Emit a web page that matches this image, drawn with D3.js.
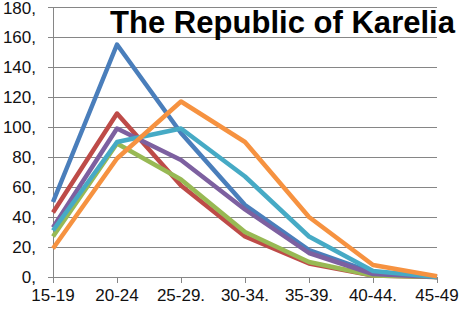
<!DOCTYPE html>
<html><head><meta charset="utf-8">
<script src="https://cdn.jsdelivr.net/npm/d3@7"></script>
<style>body{margin:0;background:#fff}svg{display:block}</style>
</head><body>
<script>
const categories = ["15-19","20-24","25-29.","30-34.","35-39.","40-44.","45-49"];
const yTicks = [0,20,40,60,80,100,120,140,160,180];
const seriesNames = ["s1","s2","s3","s4","s5","s6"];
const blue   = [50,155,96,48,18,3,0];
const red    = [43,109,61,27,9,1,0];
const green  = [27,89,65,30,10,1,0];
const purple = [33,99,78,45,16,2,0];
const teal   = [31,90,99,67,27,4,0];
const orange = [19,79,117,90,40,8,0.5];
const colors = ["#4A7EBB","#BE4B48","#98B954","#7D60A0","#46AAC5","#F69240"];
const seriesValues = [blue, red, green, purple, teal, orange];
const title = "The Republic of Karelia";

const W = 465, H = 311;
const svg = d3.select("body").append("svg").attr("width", W).attr("height", H);
const x = d3.scalePoint().domain(categories).range([53, 437]).padding(0);
const y = d3.scaleLinear().domain([0, 180]).range([277, 7]);

// gridlines
svg.append("g").selectAll("line").data(yTicks).join("line")
  .attr("x1", 48).attr("x2", 437)
  .attr("y1", d => Math.round(y(d)) + 0.5).attr("y2", d => Math.round(y(d)) + 0.5)
  .attr("stroke", "#868686").attr("stroke-width", 1);

// y axis line
svg.append("line").attr("x1", 53.5).attr("x2", 53.5).attr("y1", y(180)).attr("y2", y(0))
  .attr("stroke", "#868686");

// x ticks
svg.append("g").selectAll("line").data(categories).join("line")
  .attr("x1", d => Math.round(x(d)) + 0.5).attr("x2", d => Math.round(x(d)) + 0.5)
  .attr("y1", y(0)).attr("y2", y(0) + 6)
  .attr("stroke", "#868686");

// y labels
svg.append("g").selectAll("text").data(yTicks).join("text")
  .attr("x", 36).attr("y", d => Math.max(y(d) + 6, 14))
  .attr("text-anchor", "end")
  .attr("font-family", "Liberation Sans, Arial, sans-serif").attr("font-size", 17)
  .attr("fill", "#111")
  .text(d => d + ",");

// x labels
svg.append("g").selectAll("text").data(categories).join("text")
  .attr("x", d => x(d)).attr("y", 301)
  .attr("text-anchor", "middle")
  .attr("font-family", "Liberation Sans, Arial, sans-serif").attr("font-size", 17)
  .attr("fill", "#111")
  .text(d => d);

// lines
const line = d3.line().x((d, i) => x(categories[i])).y(d => y(d));
svg.append("g").selectAll("path").data(seriesValues).join("path")
  .attr("d", d => line(d))
  .attr("fill", "none")
  .attr("stroke", (d, i) => colors[i])
  .attr("stroke-width", 4.5)
  .attr("stroke-linejoin", "round");

// title
svg.append("text").attr("x", 110).attr("y", 33)
  .attr("font-family", "Liberation Sans, Arial, sans-serif").attr("font-weight", "bold")
  .attr("font-size", 31)
  .attr("textLength", 345).attr("lengthAdjust", "spacingAndGlyphs")
  .attr("fill", "#000")
  .text(title);
</script>
</body></html>
